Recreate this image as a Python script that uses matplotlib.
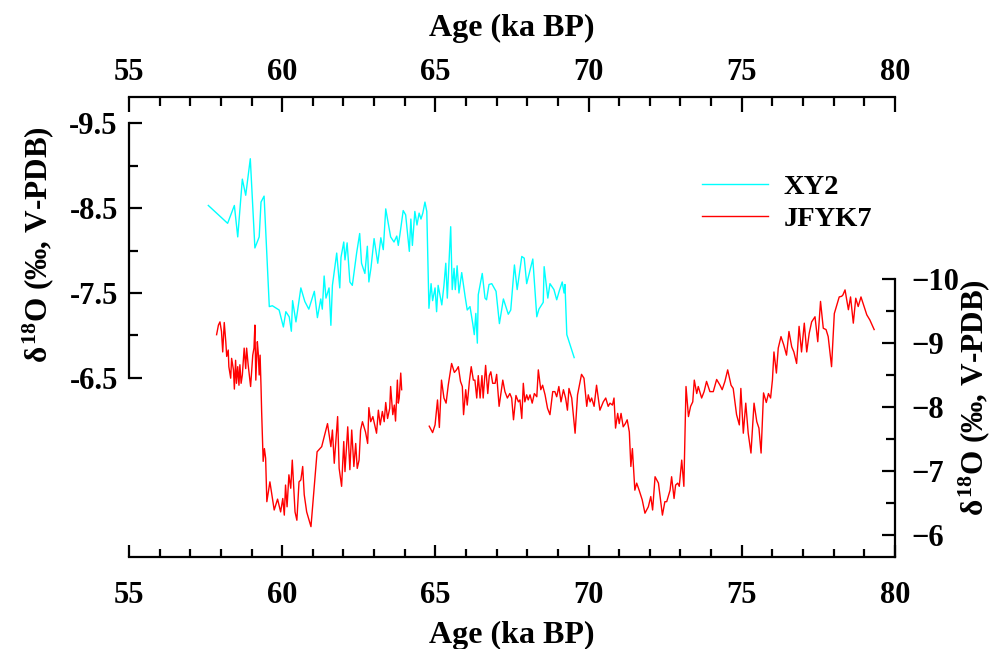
import numpy as np
import matplotlib
matplotlib.use("Agg")
import matplotlib.pyplot as plt
from matplotlib.ticker import MultipleLocator, FixedLocator

plt.rcParams["font.family"] = ["Liberation Serif", "DejaVu Serif"]
plt.rcParams["font.weight"] = "bold"
plt.rcParams["mathtext.fontset"] = "custom"
plt.rcParams["mathtext.rm"] = "Liberation Serif:bold"
plt.rcParams["mathtext.it"] = "Liberation Serif:bold"
plt.rcParams["mathtext.bf"] = "Liberation Serif:bold"

# XY2 record (left axis)
xy2_age = [57.59, 58.22, 58.44, 58.55, 58.70, 58.81, 58.96, 59.11, 59.25, 59.31,
           59.41, 59.58, 59.68, 59.90, 60.04, 60.12, 60.23, 60.30, 60.34, 60.45,
           60.61, 60.74, 60.87, 61.05, 61.15, 61.26, 61.31, 61.37, 61.43, 61.53,
           61.59, 61.64, 61.78, 61.88, 61.92, 62.01, 62.05, 62.12, 62.21, 62.29,
           62.43, 62.53, 62.59, 62.70, 62.78, 62.83, 62.90, 63.00, 63.12, 63.22,
           63.30, 63.38, 63.54, 63.65, 63.74, 63.79, 63.84, 63.95, 64.03, 64.15,
           64.20, 64.25, 64.33, 64.40, 64.47, 64.53, 64.59, 64.66, 64.72, 64.79,
           64.86, 64.91, 64.99, 65.04, 65.09, 65.21, 65.28, 65.34, 65.39, 65.50,
           65.55, 65.61, 65.65, 65.71, 65.77, 65.86, 65.97, 66.04, 66.13, 66.22,
           66.27, 66.32, 66.37, 66.40, 66.53, 66.62, 66.67, 66.75, 66.84, 66.98,
           67.09, 67.22, 67.38, 67.46, 67.58, 67.67, 67.82, 67.90, 67.98, 68.18,
           68.31, 68.38, 68.52, 68.55, 68.67, 68.74, 68.87, 68.96, 69.04, 69.14,
           69.20, 69.23, 69.29, 69.53]
xy2_d18o = [-8.53, -8.32, -8.53, -8.16, -8.84, -8.65, -9.08, -8.03, -8.16, -8.57,
            -8.64, -7.34, -7.35, -7.30, -7.10, -7.28, -7.22, -7.05, -7.41, -7.16,
            -7.56, -7.40, -7.31, -7.52, -7.21, -7.43, -7.31, -7.70, -7.44, -7.56,
            -7.12, -7.59, -7.97, -7.56, -7.92, -8.10, -7.89, -8.09, -7.63, -7.59,
            -7.97, -8.20, -7.85, -7.73, -8.05, -7.63, -7.80, -8.14, -7.85, -8.15,
            -8.01, -8.49, -8.16, -8.10, -8.17, -8.06, -8.18, -8.47, -8.42, -7.99,
            -8.37, -8.06, -8.46, -8.30, -8.44, -8.37, -8.44, -8.57, -8.46, -7.32,
            -7.61, -7.41, -7.56, -7.28, -7.59, -7.36, -7.59, -7.85, -7.44, -8.28,
            -7.54, -7.79, -7.54, -7.82, -7.50, -7.74, -7.46, -7.30, -7.34, -7.14,
            -7.01, -7.26, -6.91, -7.48, -7.73, -7.44, -7.42, -7.60, -7.61, -7.52,
            -7.14, -7.43, -7.25, -7.30, -7.83, -7.54, -7.93, -7.91, -7.61, -7.90,
            -7.22, -7.31, -7.39, -7.81, -7.44, -7.61, -7.54, -7.42, -7.52, -7.63,
            -7.50, -7.60, -7.01, -6.74]

# JFYK7 record (right axis), nan marks the hiatus around 64-64.8 ka
jfyk7_age = [57.86, 57.92, 57.97, 58.02, 58.06, 58.11, 58.16, 58.19, 58.24, 58.26,
             58.32, 58.35, 58.41, 58.44, 58.48, 58.51, 58.55, 58.59, 58.62, 58.66,
             58.70, 58.76, 58.81, 58.84, 58.89, 58.97, 59.04, 59.08, 59.11, 59.14,
             59.19, 59.22, 59.25, 59.28, 59.31, 59.33, 59.36, 59.38, 59.42, 59.46,
             59.50, 59.60, 59.74, 59.85, 59.95, 60.02, 60.07, 60.11, 60.16, 60.22,
             60.28, 60.33, 60.42, 60.48, 60.55, 60.61, 60.67, 60.72, 60.80, 60.94,
             61.14, 61.29, 61.48, 61.59, 61.64, 61.70, 61.81, 61.86, 61.94, 62.01,
             62.05, 62.14, 62.21, 62.27, 62.34, 62.40, 62.45, 62.51, 62.56, 62.62,
             62.72, 62.79, 62.83, 62.89, 62.96, 63.01, 63.08, 63.14, 63.20, 63.27,
             63.33, 63.38, 63.44, 63.51, 63.54, 63.61, 63.66, 63.70, 63.76, 63.79,
             63.82, 63.87, 63.90, np.nan,
             64.80, 64.91, 64.99, 65.07, 65.13, 65.20, 65.28, 65.35, 65.42, 65.53,
             65.62, 65.69, 65.75, 65.82, 65.88, 65.92, 65.99, 66.04, 66.11, 66.17,
             66.24, 66.29, 66.35, 66.40, 66.46, 66.52, 66.56, 66.64, 66.71, 66.76,
             66.81, 66.87, 66.95, 67.00, 67.08, 67.20, 67.27, 67.35, 67.43, 67.49,
             67.55, 67.63, 67.71, 67.76, 67.82, 67.87, 67.92, 67.98, 68.03, 68.09,
             68.16, 68.23, 68.31, 68.36, 68.44, 68.50, 68.58, 68.66, 68.74, 68.83,
             68.90, 68.96, 69.03, 69.10, 69.18, 69.25, 69.31, 69.36, 69.45, 69.56,
             69.64, 69.77, 69.85, 69.94, 69.99, 70.05, 70.10, 70.18, 70.26, 70.37,
             70.48, 70.56, 70.64, 70.70, 70.78, 70.83, 70.88, 70.95, 71.00, 71.06,
             71.13, 71.20, 71.26, 71.33,
             71.38, 71.43, 71.51, 71.57, 71.65, 71.75, 71.84, 71.95, 72.03, 72.09,
             72.17, 72.28, 72.41, 72.49, 72.55, 72.66, 72.71, 72.79, 72.84, 72.91,
             72.96, 73.04, 73.11, 73.18, 73.26, 73.33, 73.40, 73.45, 73.53, 73.58,
             73.69, 73.77, 73.85, 73.96, 74.07, 74.18, 74.29, 74.36, 74.45, 74.54,
             74.65, 74.72, 74.83, 74.92, 74.97, 75.05, 75.13, 75.21, 75.30, 75.40,
             75.49, 75.56, 75.63,
             75.71, 75.80, 75.87, 75.94, 76.00, 76.05, 76.13, 76.19, 76.28, 76.37,
             76.46, 76.54, 76.63, 76.70, 76.79, 76.87, 76.95, 77.04, 77.12, 77.20,
             77.28, 77.39, 77.48, 77.57, 77.66, 77.75, 77.82, 77.93, 78.02, 78.10,
             78.18, 78.26, 78.30, 78.37, 78.48, 78.55, 78.64, 78.72, 78.80, 78.89,
             78.99, 79.08, 79.18, 79.32]
jfyk7_d18o = [-9.13, -9.28, -9.33, -9.18, -8.86, -9.32, -9.02, -8.79, -8.89, -8.63,
              -8.45, -8.76, -8.58, -8.28, -8.73, -8.37, -8.63, -8.34, -8.66, -8.37,
              -8.50, -8.92, -8.60, -8.92, -8.66, -8.32, -8.81, -8.92, -9.28, -8.42,
              -9.02, -8.84, -8.50, -8.81, -8.32, -7.93, -7.46, -7.15, -7.35, -7.20,
              -6.52, -6.83, -6.39, -6.56, -6.36, -6.57, -6.31, -6.78, -6.44, -6.94,
              -6.73, -7.17, -6.36, -6.23, -6.83, -6.86, -7.07, -6.63, -6.36, -6.13,
              -7.30, -7.38, -7.74, -7.38, -7.64, -7.12, -7.85, -7.04, -6.76, -7.46,
              -6.99, -7.69, -7.02, -7.64, -7.07, -7.43, -7.04, -7.17, -7.64, -7.77,
              -7.61, -7.43, -7.99, -7.77, -7.85, -7.74, -7.59, -7.95, -7.72, -7.93,
              -7.77, -8.07, -7.82, -7.98, -8.32, -7.88, -8.03, -7.78, -8.42, -8.06,
              -8.14, -8.53, -8.27, np.nan,
              -7.70, -7.60, -7.72, -8.11, -7.68, -8.42, -8.14, -8.06, -8.34, -8.68,
              -8.54, -8.58, -8.63, -8.40, -8.32, -7.88, -8.27, -8.03, -8.40, -8.63,
              -8.42, -8.42, -8.14, -8.49, -8.14, -8.49, -8.14, -8.65, -8.21, -8.49,
              -8.55, -8.37, -8.37, -8.51, -8.01, -8.42, -8.24, -8.14, -8.21, -8.14,
              -7.80, -8.18, -8.08, -8.11, -7.82, -8.37, -8.08, -8.19, -8.11, -8.19,
              -8.06, -8.21, -8.16, -8.58, -8.27, -8.34, -8.19, -7.98, -7.88, -8.24,
              -8.24, -8.16, -8.32, -8.08, -8.27, -8.14, -7.95, -8.29, -8.14, -7.59,
              -8.19, -8.51, -8.45, -8.01, -8.19, -8.08, -8.14, -8.01, -8.34, -7.95,
              -8.08, -8.14, -8.01, -8.06, -8.03, -8.14, -7.67, -7.90, -7.74, -7.90,
              -7.69, -7.74, -7.80, -7.61,
              -7.07, -7.35, -6.70, -6.81, -6.70, -6.55, -6.34, -6.44, -6.60, -6.39,
              -6.91, -6.81, -6.31, -6.52, -6.52, -6.70, -6.91, -6.57, -6.78, -6.81,
              -6.76, -7.17, -6.76, -8.32, -7.85, -8.01, -8.08, -8.42, -8.21, -8.32,
              -8.14, -8.24, -8.40, -8.24, -8.24, -8.43, -8.34, -8.27, -8.40, -8.58,
              -8.34, -8.29, -7.88, -7.72, -8.29, -7.59, -8.06, -7.59, -7.28, -8.06,
              -7.77, -7.67, -7.28,
              -8.22, -8.07, -8.21, -8.14, -8.42, -8.86, -8.53, -8.92, -9.10, -8.97,
              -8.81, -9.18, -8.94, -8.86, -8.68, -9.26, -8.86, -9.31, -8.86, -9.15,
              -9.33, -9.41, -9.02, -9.65, -9.23, -9.21, -9.10, -8.63, -9.46, -9.59,
              -9.72, -9.73, -9.75, -9.83, -9.52, -9.72, -9.31, -9.70, -9.57, -9.72,
              -9.57, -9.44, -9.36, -9.21]

age_ticks = [55, 60, 65, 70, 75, 80]
xy2_ticks = [-9.5, -8.5, -7.5, -6.5]
xy2_minor = [-9, -8, -7]
jfyk7_ticks = [-10, -9, -8, -7, -6]
jfyk7_minor = [-9.5, -8.5, -7.5, -6.5]

ylabel = r"$\delta^{18}$O (‰, V-PDB)"

fig = plt.figure(figsize=(9.92, 6.49), dpi=100)
ax1 = fig.add_axes([0.130, 0.1418, 0.7722, 0.7087])
ax1.set_facecolor("none")
ax2 = ax1.twinx()

l1, = ax1.plot(xy2_age, xy2_d18o, color="#00FFFF", lw=1.0, label="XY2")
l2, = ax2.plot(jfyk7_age, jfyk7_d18o, color="#FF0000", lw=1.0, label="JFYK7")

ax1.set_xlim(55, 80)
ax1.set_ylim(-4.394, -9.806)
ax2.set_ylim(-5.656, -12.844)

lw = 1.6
for sp in ax1.spines.values():
    sp.set_linewidth(lw)
ax1.spines["right"].set_visible(False)
ax1.spines["top"].set_visible(False)
ax1.spines["left"].set_bounds(-9.5, -6.5)
for name in ["top", "bottom", "left"]:
    ax2.spines[name].set_visible(False)
ax2.spines["right"].set_linewidth(lw)
ax2.spines["right"].set_bounds(-10, -5.656)

tick_fs = 22
title_fs = 23

# bottom age axis
ax1.set_xticks(age_ticks)
ax1.xaxis.set_minor_locator(MultipleLocator(1))
ax1.tick_params(axis="x", which="major", direction="in", length=8.8, width=lw,
                pad=17, labelsize=tick_fs)
ax1.tick_params(axis="x", which="minor", direction="in", length=5.5, width=lw)
ax1.set_xlabel("Age (ka BP)", fontsize=title_fs, fontweight="bold", labelpad=8)

# top age axis
top = ax1.secondary_xaxis("top")
top.spines["top"].set_linewidth(lw)
top.set_xticks(age_ticks)
top.xaxis.set_minor_locator(MultipleLocator(1))
top.tick_params(axis="x", which="major", direction="in", length=10.8, width=lw,
                pad=7, labelsize=tick_fs)
top.tick_params(axis="x", which="minor", direction="in", length=6.5, width=lw)
top.set_xlabel("Age (ka BP)", fontsize=title_fs, fontweight="bold", labelpad=16)

# left axis (XY2)
ax1.set_yticks(xy2_ticks)
ax1.yaxis.set_minor_locator(FixedLocator(xy2_minor))
ax1.tick_params(axis="y", which="major", direction="in", length=9.4, width=lw,
                pad=8, labelsize=tick_fs)
ax1.tick_params(axis="y", which="minor", direction="in", length=6.2, width=lw)
ax1.set_yticklabels([f"{v:g}" for v in xy2_ticks])
ax1.set_ylabel(ylabel, fontsize=22.5, fontweight="bold")
ax1.yaxis.set_label_coords(-0.095, 0.68)

# right axis (JFYK7)
ax2.set_yticks(jfyk7_ticks)
ax2.yaxis.set_minor_locator(FixedLocator(jfyk7_minor))
ax2.tick_params(axis="y", which="major", direction="in", length=9.4, width=lw,
                pad=12, labelsize=tick_fs)
ax2.tick_params(axis="y", which="minor", direction="in", length=6.2, width=lw)
ax2.set_ylabel(ylabel, fontsize=22.5, fontweight="bold", rotation=90)
ax2.yaxis.set_label_coords(1.080, 0.346)

for lab in ax1.get_xticklabels() + ax1.get_yticklabels() + ax2.get_yticklabels() + top.get_xticklabels():
    lab.set_fontweight("bold")

leg = ax1.legend(handles=[l1, l2], loc="upper left", bbox_to_anchor=(0.7077, 0.732),
                 bbox_transform=fig.transFigure, frameon=False, fontsize=20.5,
                 handlelength=2.3, handletextpad=0.56, labelspacing=0.22,
                 borderpad=0, borderaxespad=0)
for t in leg.get_texts():
    t.set_fontweight("bold")

fig.savefig("out.png", dpi=100)
